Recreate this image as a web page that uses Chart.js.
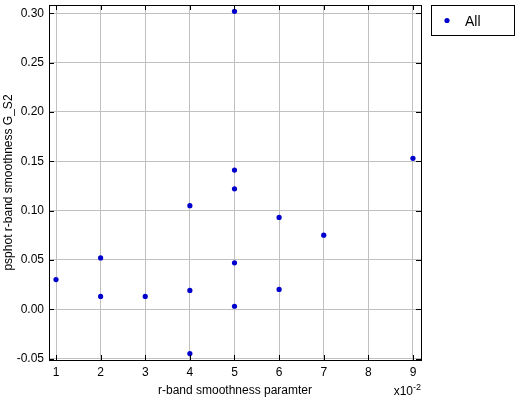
<!DOCTYPE html>
<html>
<head>
<meta charset="utf-8">
<script src="https://cdn.jsdelivr.net/npm/chart.js@4/dist/chart.umd.min.js"></script>
<style>
  html, body { margin: 0; padding: 0; background: #fff; }
</style>
</head>
<body>
<canvas id="scatter" width="515" height="400"></canvas>
<script>
// data ===============================================
var seriesName = "All";
var xValues = [1, 2, 2, 3, 4, 4, 4, 5, 5, 5, 5, 5, 6, 6, 7, 9];
var yValues = [0.030, 0.052, 0.013, 0.013, 0.105, 0.019, -0.045, 0.302, 0.141, 0.122, 0.047, 0.003, 0.093, 0.020, 0.075, 0.153];
var xTicks = [1, 2, 3, 4, 5, 6, 7, 8, 9];
var yTicks = [-0.05, 0.00, 0.05, 0.10, 0.15, 0.20, 0.25, 0.30];
var xTitle = "r-band smoothness paramter";
var yTitle = "psphot r-band smoothness G_S2";
var xExponent = "-2";

var dotColor = "#0000cc";
var fontFamily = "'Liberation Sans', Arial, sans-serif";

var points = xValues.map(function (x, i) {
  return { x: x, y: yValues[i] };
});

// plugin block: frame, inward ticks, exponent, legend
const frameAndLegend = {
  id: "frameAndLegend",
  afterDraw(chart) {
    const { ctx, chartArea: { top, bottom, left, right }, scales: { x, y } } = chart;
    ctx.save();
    ctx.strokeStyle = "#000";
    ctx.lineWidth = 1;

    // inward tick marks on all four sides
    ctx.beginPath();
    xTicks.forEach(function (v) {
      const px = Math.round(x.getPixelForValue(v)) + 0.5;
      ctx.moveTo(px, bottom); ctx.lineTo(px, bottom - 5);
      ctx.moveTo(px, top); ctx.lineTo(px, top + 5);
    });
    yTicks.forEach(function (v) {
      const py = Math.round(y.getPixelForValue(v)) + 0.5;
      ctx.moveTo(left, py); ctx.lineTo(left + 5, py);
      ctx.moveTo(right, py); ctx.lineTo(right - 5, py);
    });
    ctx.stroke();

    // plot frame
    ctx.strokeRect(Math.round(left) + 0.5, Math.round(top) + 0.5,
      Math.round(right - left), Math.round(bottom - top));

    // x10^-2 under the right end of the x axis
    ctx.fillStyle = "#000";
    ctx.textBaseline = "alphabetic";
    ctx.textAlign = "right";
    ctx.font = "9px " + fontFamily;
    const expW = ctx.measureText(xExponent).width;
    ctx.fillText(xExponent, right, 390);
    ctx.font = "12px " + fontFamily;
    ctx.fillText("x10", right - expW, 395);

    // legend box
    const lx = 431, ly = 5, lw = 83, lh = 30;
    ctx.strokeRect(lx + 0.5, ly + 0.5, lw, lh);
    ctx.beginPath();
    ctx.fillStyle = dotColor;
    ctx.arc(447, 20.5, 2.6, 0, Math.PI * 2);
    ctx.fill();
    ctx.fillStyle = "#000";
    ctx.textAlign = "left";
    ctx.textBaseline = "middle";
    ctx.font = "14px " + fontFamily;
    ctx.fillText(seriesName, 465, 22);
    ctx.restore();
  },
};

// config
const scatterConfig = {
  type: "scatter",
  data: {
    datasets: [
      {
        label: seriesName,
        data: points,
        backgroundColor: dotColor,
        borderColor: dotColor,
        borderWidth: 0,
        pointRadius: 2.6,
        pointHoverRadius: 2.6,
      },
    ],
  },
  options: {
    responsive: false,
    animation: false,
    layout: {
      padding: { top: 5, right: 94, left: 0, bottom: 0 },
    },
    plugins: {
      legend: { display: false },
      tooltip: { enabled: false },
    },
    scales: {
      x: {
        type: "linear",
        min: 0.843,
        max: 9.18,
        afterBuildTicks: function (scale) {
          scale.ticks = xTicks.map(function (v) { return { value: v }; });
        },
        afterFit: function (scale) {
          scale.height = 40;
          scale.paddingLeft = 0;
          scale.paddingRight = 0;
        },
        grid: { color: "#c0c0c0", lineWidth: 1, drawTicks: false },
        border: { display: false },
        ticks: {
          color: "#000",
          padding: 5,
          maxRotation: 0,
          font: { family: fontFamily, size: 12 },
          callback: function (v) { return String(v); },
        },
        title: {
          display: true,
          text: xTitle,
          color: "#000",
          padding: { top: 0, bottom: 2 },
          font: { family: fontFamily, size: 12 },
        },
      },
      y: {
        type: "linear",
        min: -0.0515,
        max: 0.3084,
        afterBuildTicks: function (scale) {
          scale.ticks = yTicks.map(function (v) { return { value: v }; });
        },
        afterFit: function (scale) {
          scale.width = 49;
          scale.paddingTop = 0;
          scale.paddingBottom = 0;
        },
        grid: { color: "#c0c0c0", lineWidth: 1, drawTicks: false },
        border: { display: false },
        ticks: {
          color: "#000",
          padding: 5,
          font: { family: fontFamily, size: 12 },
          callback: function (v) { return v.toFixed(2); },
        },
        title: {
          display: true,
          text: yTitle,
          color: "#000",
          padding: { top: 1, bottom: 0 },
          font: { family: fontFamily, size: 12 },
        },
      },
    },
  },
  plugins: [frameAndLegend],
};

// render init block
const myChart = new Chart(document.getElementById("scatter"), scatterConfig);
</script>
</body>
</html>
